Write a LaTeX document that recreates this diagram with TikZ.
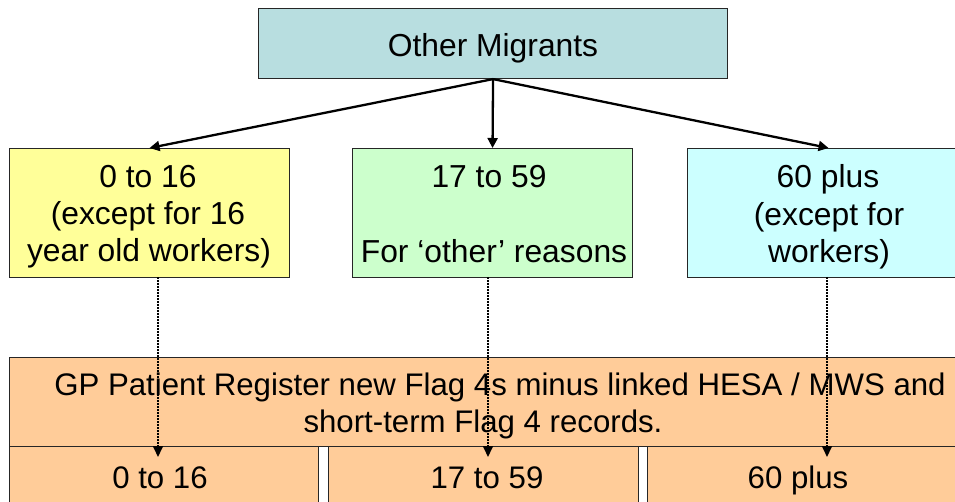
\documentclass[tikz,border=0pt]{standalone}
\usepackage{fontspec}
\setmainfont{Liberation Sans}
\usetikzlibrary{arrows.meta}
\definecolor{topfill}{HTML}{B8DEE0}
\definecolor{yellowfill}{HTML}{FFFF99}
\definecolor{greenfill}{HTML}{CCFFCC}
\definecolor{cyanfill}{HTML}{CCFFFF}
\definecolor{orangefill}{HTML}{FFCC99}
\begin{document}
\begin{tikzpicture}[x=1pt,y=-1pt,
  box/.style={draw=black!85,line width=1.1pt,inner sep=0pt,anchor=north west},
  lbl/.style={font=\fontsize{31.8}{38}\selectfont,anchor=base,inner sep=0pt},
  reglbl/.style={lbl,font=\fontsize{31.2}{37}\selectfont},
  arr/.style={line width=2.3pt,-{Triangle[length=10pt,width=10pt]}},
  dotarr/.style={line width=1.7pt,dash pattern=on 1.6pt off 1.4pt,
                 -{Triangle[length=11pt,width=10pt]}}]
  \useasboundingbox (0,0) rectangle (955,502);
  \clip (0,0) rectangle (955,502);

  % boxes
  \node[box,fill=topfill,minimum width=469pt,minimum height=70pt] (top) at (258,8) {};
  \node[box,fill=yellowfill,minimum width=280pt,minimum height=129pt] (young) at (9,148) {};
  \node[box,fill=greenfill,minimum width=280pt,minimum height=129pt] (mid) at (352,148) {};
  \node[box,fill=cyanfill,minimum width=282pt,minimum height=129pt] (old) at (687,148) {};
  \node[box,fill=orangefill,minimum width=982pt,minimum height=89pt] (reg) at (9,357) {};
  \node[box,fill=orangefill,minimum width=309pt,minimum height=70pt] (b1) at (9,446) {};
  \node[box,fill=orangefill,minimum width=310pt,minimum height=70pt] (b2) at (328,446) {};
  \node[box,fill=orangefill,minimum width=320pt,minimum height=70pt] (b3) at (647,446) {};

  % labels
  \node[lbl] (ttop) at (493,57) {Other Migrants};
  \node[lbl] (ty1) at (148,188) {0 to 16};
  \node[lbl] (ty2) at (148,225) {(except for 16};
  \node[lbl] (ty3) at (149,262) {year old workers)};
  \node[lbl] (tm1) at (489,188) {17 to 59};
  \node[lbl] (tm2) at (494,263) {For ‘other’ reasons};
  \node[lbl] (to1) at (828,188) {60 plus};
  \node[lbl] (to2) at (829,226) {(except for};
  \node[lbl] (to3) at (829,263) {workers)};
  \node[reglbl] (tr1) at (500,395) {GP Patient Register new Flag 4s minus linked HESA / MWS and};
  \node[reglbl] (tr2) at (483,432) {short-term Flag 4 records.};
  \node[reglbl] (tb1) at (160,488) {0 to 16};
  \node[reglbl] (tb2) at (487,488) {17 to 59};
  \node[reglbl] (tb3) at (798,488) {60 plus};

  % split of the top group
  \draw[arr] (top.south) -- (young.north);
  \draw[arr] (top.south) -- (mid.north);
  \draw[arr] (top.south) -- (old.north);

  % links down to the register groups
  \coordinate (ya) at (158,277);  \coordinate (yb) at (158,457);
  \coordinate (ma) at (488,277);  \coordinate (mb) at (488,457);
  \coordinate (oa) at (827,277);  \coordinate (ob) at (827,457);
  \draw[dotarr] (ya) -- (yb);
  \draw[dotarr] (ma) -- (mb);
  \draw[dotarr] (oa) -- (ob);
\end{tikzpicture}
\end{document}
